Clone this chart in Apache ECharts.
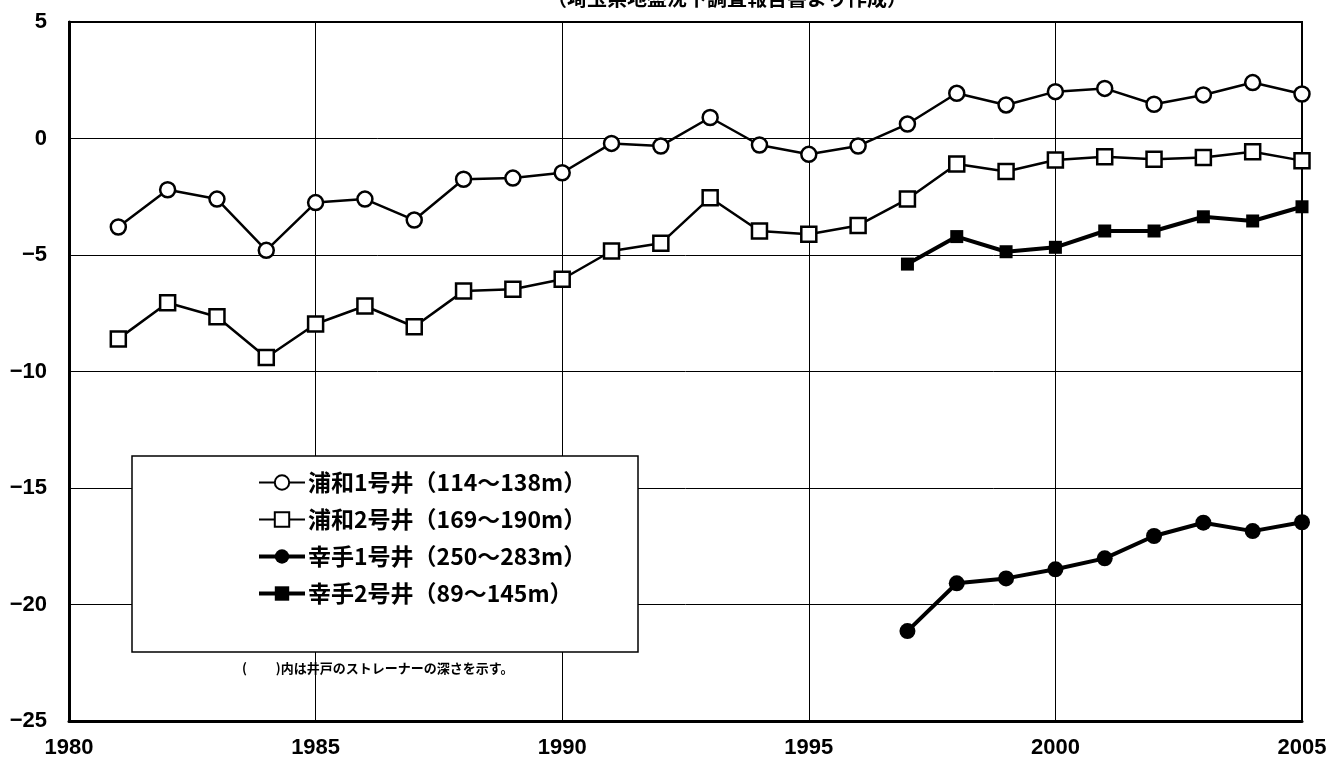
<!DOCTYPE html>
<html>
<head>
<meta charset="utf-8">
<script src="https://cdn.jsdelivr.net/npm/echarts@6/dist/echarts.min.js"></script>
<style>
    html, body { margin: 0; padding: 0; background: #fff; }
    #chart { width: 1336px; height: 770px; }
</style>
</head>
<body>
<div id="chart"></div>
<script>
    // 年（浦和）
    var yearsUrawa = [1981, 1982, 1983, 1984, 1985, 1986, 1987, 1988, 1989, 1990,
        1991, 1992, 1993, 1994, 1995, 1996, 1997, 1998, 1999, 2000,
        2001, 2002, 2003, 2004, 2005];
    // 年（幸手）
    var yearsSatte = [1997, 1998, 1999, 2000, 2001, 2002, 2003, 2004, 2005];

    var urawa1 = [-3.8, -2.2, -2.6, -4.8, -2.75, -2.6, -3.5, -1.75, -1.7, -1.47,
        -0.21, -0.32, 0.9, -0.28, -0.68, -0.32, 0.62, 1.94, 1.44, 2.01,
        2.15, 1.47, 1.87, 2.4, 1.91];
    var urawa2 = [-8.6, -7.05, -7.65, -9.4, -7.96, -7.19, -8.08, -6.55, -6.47, -6.04,
        -4.83, -4.5, -2.54, -3.97, -4.11, -3.73, -2.6, -1.09, -1.42, -0.92,
        -0.78, -0.89, -0.82, -0.57, -0.95];
    var satte1 = [-21.14, -19.09, -18.88, -18.49, -18.02, -17.06, -16.49, -16.85, -16.47];
    var satte2 = [-5.39, -4.21, -4.86, -4.67, -3.97, -3.97, -3.36, -3.54, -2.93];

    var seriesNames = ['浦和1号井（114～138m）', '浦和2号井（169～190m）', '幸手1号井（250～283m）', '幸手2号井（89～145m）'];

    function pairs(xs, ys) {
        return xs.map(function (x, i) { return [x, ys[i]]; });
    }

    var numFont = '"Liberation Sans", Arial, sans-serif';
    var cjkFont = '"Noto Sans CJK JP", "Noto Sans CJK SC", sans-serif';

    var chart = echarts.init(document.getElementById('chart'));
    var option = {
        animation: false,
        backgroundColor: '#fff',
        grid: {
            left: 69, right: 34, top: 22, bottom: 49,
            show: true, borderColor: '#000', borderWidth: 2
        },
        xAxis: {
            type: 'value', min: 1980, max: 2005, interval: 5,
            axisLine: { show: true, onZero: false, lineStyle: { color: '#000', width: 3 } },
            axisTick: { show: false },
            splitLine: { show: true, lineStyle: { color: '#000', width: 1 } },
            axisLabel: {
                color: '#000', fontSize: 22, fontWeight: 'bold', fontFamily: numFont, margin: 16,
                formatter: function (v) { return String(v); }
            }
        },
        yAxis: {
            type: 'value', min: -25, max: 5, interval: 5,
            axisLine: { show: true, onZero: false, lineStyle: { color: '#000', width: 3 } },
            axisTick: { show: false },
            splitLine: { show: true, lineStyle: { color: '#000', width: 1 } },
            axisLabel: {
                color: '#000', fontSize: 22, fontWeight: 'bold', fontFamily: numFont, margin: 22,
                formatter: function (v) { return String(v).replace('-', '\u2212'); }
            }
        },
        legend: {
            orient: 'vertical',
            left: 252, top: 466,
            z: 10,
            itemWidth: 46, itemHeight: 18, itemGap: 14,
            textStyle: { color: '#000', fontSize: 23, fontWeight: 'bold', fontFamily: cjkFont, padding: [0, 0, 0, -2] },
            data: [
                { name: seriesNames[0], lineStyle: { width: 2 } },
                { name: seriesNames[1], lineStyle: { width: 2 } },
                { name: seriesNames[2], lineStyle: { width: 4 } },
                { name: seriesNames[3], lineStyle: { width: 4 } }
            ]
        },
        graphic: [
            {
                type: 'rect', z: 5,
                shape: { x: 132, y: 456, width: 506, height: 196 },
                style: { fill: '#fff', stroke: '#000', lineWidth: 1.5 }
            },
            {
                type: 'text', z: 6,
                style: {
                    text: '(　　 )内は井戸のストレーナーの深さを示す。',
                    x: 242, y: 668, textVerticalAlign: 'middle',
                    font: 'bold 13px ' + cjkFont, fill: '#000'
                }
            },
            {
                type: 'text', z: 6,
                style: {
                    text: '（埼玉県地盤沈下調査報告書より作成）',
                    x: 727, y: 8, textAlign: 'center', textVerticalAlign: 'bottom',
                    font: 'bold 20px ' + cjkFont, fill: '#000'
                }
            }
        ],
        series: [
            {
                name: seriesNames[0], type: 'line',
                data: pairs(yearsUrawa, urawa1),
                symbol: 'circle', symbolSize: 15,
                lineStyle: { color: '#000', width: 2.5 },
                itemStyle: { color: '#fff', borderColor: '#000', borderWidth: 2.5 }
            },
            {
                name: seriesNames[1], type: 'line',
                data: pairs(yearsUrawa, urawa2),
                symbol: 'rect', symbolSize: 15,
                lineStyle: { color: '#000', width: 2.5 },
                itemStyle: { color: '#fff', borderColor: '#000', borderWidth: 2.5 }
            },
            {
                name: seriesNames[2], type: 'line',
                data: pairs(yearsSatte, satte1),
                symbol: 'circle', symbolSize: 16,
                lineStyle: { color: '#000', width: 4 },
                itemStyle: { color: '#000', borderColor: '#000', borderWidth: 0 }
            },
            {
                name: seriesNames[3], type: 'line',
                data: pairs(yearsSatte, satte2),
                symbol: 'rect', symbolSize: 13,
                lineStyle: { color: '#000', width: 4 },
                itemStyle: { color: '#000', borderColor: '#000', borderWidth: 0 }
            }
        ]
    };
    chart.setOption(option);
    window.addEventListener('resize', function () {
        chart.resize();
    });
</script>
</body>
</html>
